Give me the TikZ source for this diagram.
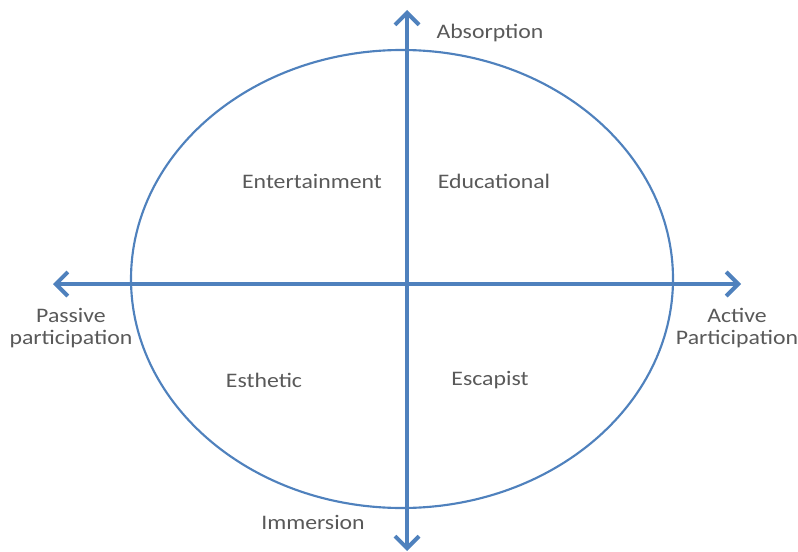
\documentclass[tikz,border=0pt]{standalone}
\usepackage{fontspec}
\setmainfont{Carlito}[FakeStretch=1.15]
\usetikzlibrary{arrows.meta}
\definecolor{axisblue}{RGB}{79,129,189}
\definecolor{labelgray}{RGB}{89,89,89}
\tikzset{
  quadlabel/.style={text=labelgray,font=\fontsize{15.5}{16}\selectfont,align=center,inner sep=0pt},
  axis/.style={axisblue,line width=3.5pt,{Straight Barb[length=9pt,width=18pt,line width=3pt]}-{Straight Barb[length=9pt,width=18pt,line width=3pt]}}
}
\begin{document}
\begin{tikzpicture}[x=0.75pt,y=-0.75pt]
	\useasboundingbox (0,0) rectangle (798,552);
	\draw[axisblue,line width=1.6pt] (402,279) ellipse (271 and 229);
	\coordinate (n) at (407,10);
	\coordinate (s) at (407,551);
	\coordinate (w) at (53,284);
	\coordinate (e) at (741,284);
	\draw[axis] (s) -- (n);
	\draw[axis] (w) -- (e);
	\node[quadlabel] (abs) at (490,33) {Absorption};
	\node[quadlabel] (imm) at (313,522) {Immersion};
	\node[quadlabel] (pas) at (71,328) {Passive\\participation};
	\node[quadlabel] (act) at (737,328) {Active\\Participation};
	\node[quadlabel] (ent) at (312,181) {Entertainment};
	\node[quadlabel] (edu) at (494,181) {Educational};
	\node[quadlabel] (est) at (264,380) {Esthetic};
	\node[quadlabel] (esc) at (490,380) {Escapist};
\end{tikzpicture}
\end{document}
